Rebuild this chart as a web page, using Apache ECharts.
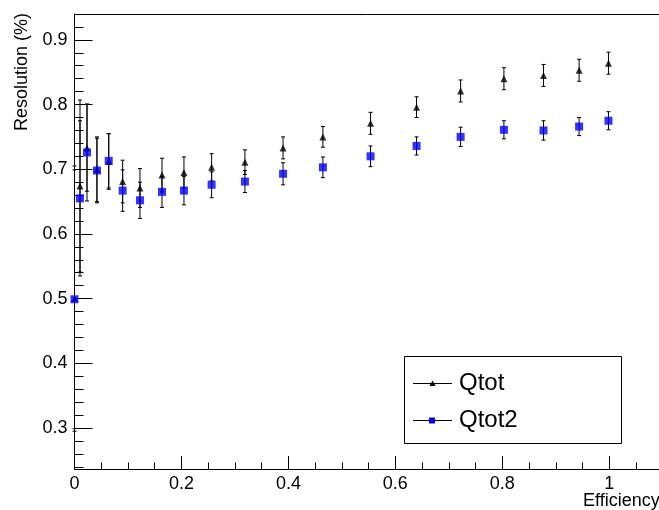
<!DOCTYPE html>
<html>
<head>
<meta charset="utf-8">
<script src="https://cdn.jsdelivr.net/npm/echarts@6/dist/echarts.min.js"></script>
<style>html,body{margin:0;padding:0;background:#fff}#c{width:659px;height:510px}</style>
</head>
<body>
<div id="c"></div>
<script>
const efficiency = [0, 0.0103, 0.0234, 0.042, 0.064, 0.090, 0.1224, 0.1636, 0.2047, 0.2564, 0.3187, 0.390, 0.4645, 0.5536, 0.6396, 0.722, 0.803, 0.877, 0.9436, 0.9985];
const qtot     = [0.500, 0.674, 0.733, 0.700, 0.712, 0.681, 0.671, 0.691, 0.695, 0.703, 0.711, 0.733, 0.750, 0.771, 0.796, 0.821, 0.840, 0.845, 0.853, 0.864];
const qtotErr  = [0.205, 0.133, 0.067, 0.050, 0.043, 0.033, 0.030, 0.026, 0.024, 0.021, 0.019, 0.017, 0.016, 0.017, 0.016, 0.017, 0.017, 0.017, 0.017, 0.017];
const qtot2    = [0.499, 0.655, 0.726, 0.698, 0.713, 0.667, 0.652, 0.665, 0.667, 0.676, 0.681, 0.693, 0.703, 0.720, 0.736, 0.750, 0.761, 0.760, 0.766, 0.775];
const qtot2Err = [0.200, 0.120, 0.075, 0.050, 0.042, 0.032, 0.028, 0.024, 0.022, 0.020, 0.017, 0.017, 0.016, 0.016, 0.014, 0.015, 0.014, 0.015, 0.014, 0.014];
const seriesNames = ['Qtot', 'Qtot2'];
const xMajorTicks = [0, 0.2, 0.4, 0.6, 0.8, 1];
const xMinorTicks = [0.05, 0.1, 0.15, 0.25, 0.3, 0.35, 0.45, 0.5, 0.55, 0.65, 0.7, 0.75, 0.85, 0.9, 0.95, 1.05];
const yMajorTicks = [0.3, 0.4, 0.5, 0.6, 0.7, 0.8, 0.9];
const yMinorTicks = [0.24, 0.26, 0.28, 0.32, 0.34, 0.36, 0.38, 0.42, 0.44, 0.46, 0.48, 0.52, 0.54, 0.56, 0.58, 0.62, 0.64, 0.66, 0.68, 0.72, 0.74, 0.76, 0.78, 0.82, 0.84, 0.86, 0.88, 0.92, 0.94];
const xTitle = 'Efficiency';
const yTitle = 'Resolution (%)';

const FONT = 'Liberation Sans, Arial, Helvetica, sans-serif';
const XMIN = 0, XMAX = 1.093, YMIN = 0.2366, YMAX = 0.94;

function errData(ys, es) { return efficiency.map((x, i) => [x, ys[i], es[i]]); }
function ptData(ys) { return efficiency.map((x, i) => [x, ys[i]]); }

function renderErr(params, api) {
  const x = api.value(0), y = api.value(1), e = api.value(2);
  const top = api.coord([x, y + e]);
  const bot = api.coord([x, y - e]);
  const cap = 2;
  const st = { stroke: '#000', lineWidth: 1 };
  return { type: 'group', children: [
    { type: 'line', shape: { x1: top[0], y1: top[1], x2: bot[0], y2: bot[1] }, style: st },
    { type: 'line', shape: { x1: top[0] - cap, y1: top[1], x2: top[0] + cap, y2: top[1] }, style: st },
    { type: 'line', shape: { x1: bot[0] - cap, y1: bot[1], x2: bot[0] + cap, y2: bot[1] }, style: st }
  ]};
}

const axisLineStyle = { lineStyle: { color: '#000', width: 1 } };

const chart = echarts.init(document.getElementById('c'), null, { renderer: 'canvas' });
chart.setOption({
  animation: false,
  backgroundColor: '#fff',
  grid: { left: 74.5, right: 0, top: 14, bottom: 41, containLabel: false },
  xAxis: [
    { type: 'value', position: 'bottom', min: XMIN, max: XMAX,
      axisLine: axisLineStyle, splitLine: { show: false },
      axisTick: { inside: true, length: 13, customValues: xMajorTicks, lineStyle: { color: '#000' } },
      axisLabel: { customValues: xMajorTicks, margin: 6, fontSize: 18, fontFamily: FONT, color: '#000' } },
    { type: 'value', position: 'bottom', min: XMIN, max: XMAX,
      axisLine: { show: false }, splitLine: { show: false },
      axisTick: { inside: true, length: 6.5, customValues: xMinorTicks, lineStyle: { color: '#000' } },
      axisLabel: { show: false } },
    { type: 'value', position: 'top', min: XMIN, max: XMAX,
      axisLine: axisLineStyle, splitLine: { show: false },
      axisTick: { show: false }, axisLabel: { show: false } }
  ],
  yAxis: [
    { type: 'value', position: 'left', min: YMIN, max: YMAX,
      axisLine: axisLineStyle, splitLine: { show: false },
      axisTick: { inside: true, length: 18, customValues: yMajorTicks, lineStyle: { color: '#000' } },
      axisLabel: { customValues: yMajorTicks, margin: 7, fontSize: 18, fontFamily: FONT, color: '#000' } },
    { type: 'value', position: 'left', min: YMIN, max: YMAX,
      axisLine: { show: false }, splitLine: { show: false },
      axisTick: { inside: true, length: 9, customValues: yMinorTicks, lineStyle: { color: '#000' } },
      axisLabel: { show: false } }
  ],
  series: [
    { name: seriesNames[0] + ' err', type: 'custom', renderItem: renderErr, data: errData(qtot, qtotErr), z: 2, silent: true },
    { name: seriesNames[0], type: 'scatter', data: ptData(qtot), symbol: 'triangle', symbolSize: [7, 7],
      itemStyle: { color: '#000' }, z: 3, silent: true },
    { name: seriesNames[1] + ' err', type: 'custom', renderItem: renderErr, data: errData(qtot2, qtot2Err), z: 4, silent: true },
    { name: seriesNames[1], type: 'scatter', data: ptData(qtot2), symbol: 'rect', symbolSize: 8,
      itemStyle: { color: '#0000ff' }, z: 5, silent: true }
  ],
  graphic: [
    { type: 'text', x: 22, y: 13, rotation: Math.PI / 2,
      style: { text: yTitle, align: 'right', verticalAlign: 'middle', font: '18px ' + FONT, fill: '#000' } },
    { type: 'text', x: 583, y: 501,
      style: { text: xTitle, align: 'left', verticalAlign: 'middle', font: '18px ' + FONT, fill: '#000' } },
    { type: 'rect', shape: { x: 404.5, y: 356.5, width: 217, height: 87 },
      style: { fill: '#fff', stroke: '#000', lineWidth: 1 }, z: 10 },
    { type: 'line', shape: { x1: 413, y1: 383.5, x2: 452, y2: 383.5 }, style: { stroke: '#000', lineWidth: 1 }, z: 11 },
    { type: 'polygon', shape: { points: [[429.5, 386], [435.5, 386], [432.5, 380.5]] }, style: { fill: '#000' }, z: 12 },
    { type: 'text', x: 459, y: 383, style: { text: seriesNames[0], align: 'left', verticalAlign: 'middle', font: '24px ' + FONT, fill: '#000' }, z: 12 },
    { type: 'line', shape: { x1: 413, y1: 420.5, x2: 452, y2: 420.5 }, style: { stroke: '#000', lineWidth: 1 }, z: 11 },
    { type: 'rect', shape: { x: 429, y: 417.5, width: 6, height: 6 }, style: { fill: '#0000ff' }, z: 12 },
    { type: 'text', x: 459, y: 420, style: { text: seriesNames[1], align: 'left', verticalAlign: 'middle', font: '24px ' + FONT, fill: '#000' }, z: 12 }
  ]
});
</script>
</body>
</html>
